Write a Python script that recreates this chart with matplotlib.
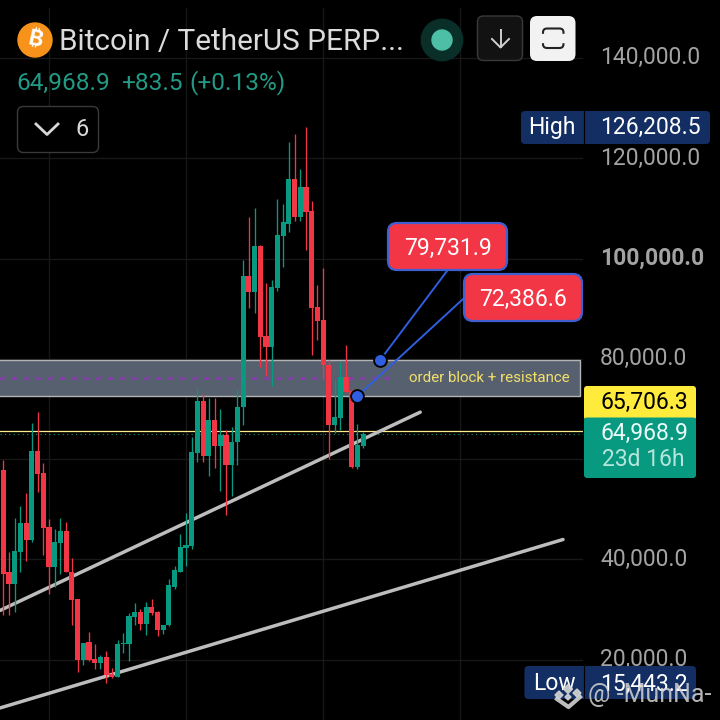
import matplotlib
matplotlib.use('Agg')
import matplotlib.pyplot as plt
from matplotlib.patches import FancyBboxPatch, Circle, Rectangle, Polygon
from matplotlib.transforms import ScaledTranslation

plt.rcParams['font.family'] = ['Roboto', 'DejaVu Sans']

# prices in thousands of USDT
opens = [57.74, 37.47, 35.01, 41.46, 47.31, 43.79, 61.53, 57.15, 46.38, 38.40, 43.25, 45.58, 37.60, 32.02, 19.86, 23.45,
         20.19, 19.26, 20.65, 17.20, 16.53, 23.05, 23.05, 28.50, 29.43, 27.23, 30.56, 29.43, 25.84, 26.84, 34.55, 37.60,
         42.26, 42.65, 61.13, 71.50, 60.60, 67.71, 62.72, 64.72, 58.93, 63.39, 70.37, 96.62, 93.43, 102.41, 84.46, 82.46,
         94.03, 104.40, 106.99, 115.77, 108.19, 114.17, 109.58, 90.44, 87.65, 78.87, 66.91, 68.11, 76.48, 73.69, 58.53, 62.72]
closes = [37.20, 35.01, 41.59, 47.31, 43.79, 61.53, 56.95, 46.24, 38.40, 43.39, 45.58, 37.60, 31.89, 19.86, 23.38, 19.99,
          19.26, 20.59, 17.00, 16.53, 23.18, 23.25, 28.63, 29.43, 27.23, 30.56, 29.23, 25.84, 27.03, 34.81, 37.80, 42.39,
          42.79, 61.33, 71.50, 60.60, 67.71, 62.72, 64.72, 58.93, 63.52, 70.50, 96.62, 93.43, 102.41, 84.26, 82.46, 94.23,
          104.60, 107.19, 115.77, 108.19, 114.17, 109.38, 90.24, 87.45, 78.68, 66.91, 68.31, 76.48, 73.49, 58.53, 62.92, 64.97]
highs = [59.74, 41.53, 48.30, 50.76, 53.16, 67.25, 69.31, 59.14, 48.11, 45.98, 48.30, 47.57, 40.20, 32.02, 23.38, 25.51,
         23.05, 21.05, 21.72, 18.39, 23.91, 25.37, 29.23, 31.22, 30.03, 31.49, 32.02, 29.69, 27.03, 36.14, 38.67, 44.98,
         49.17, 64.46, 74.03, 73.09, 72.23, 72.23, 70.03, 65.91, 66.44, 73.76, 99.81, 108.32, 110.12, 102.80, 95.03, 95.82,
         111.91, 110.78, 123.28, 124.74, 117.89, 126.21, 111.38, 94.63, 98.02, 79.87, 75.75, 79.47, 82.86, 73.89, 67.11, 65.38]
lows = [28.83, 28.83, 29.49, 37.47, 39.66, 43.45, 53.42, 40.99, 33.08, 34.55, 37.20, 37.47, 26.84, 17.66, 18.86, 19.72,
        18.19, 18.06, 15.44, 16.40, 16.53, 21.38, 19.72, 27.03, 25.90, 24.84, 28.96, 24.71, 25.04, 26.70, 34.21, 37.60,
        38.67, 42.12, 59.41, 59.40, 56.74, 58.27, 53.62, 48.96, 52.62, 58.93, 66.91, 90.17, 89.18, 78.28, 76.68, 74.55,
        93.50, 98.22, 105.20, 107.39, 107.39, 101.67, 80.67, 83.86, 76.02, 60.06, 65.12, 65.78, 73.36, 58.14, 57.94, 62.26]

price_ticks = [20, 40, 60, 80, 100, 120, 140]
price_labels = ['20,000.0', '40,000.0', '', '80,000.0', '100,000.0', '120,000.0', '140,000.0']
time_ticks = [8, 32, 56, 80]

band_top = 79.80
band_bottom = 72.55
last_price = 64.9689
line_price = 65.7063

upper_trend_x = [-0.58, 73.0]
upper_trend_y = [29.83, 69.37]
lower_trend_x = [-0.58, 98.0]
lower_trend_y = [10.39, 43.98]

anchor_x = [66, 62]
anchor_y = [band_top, band_bottom]

GREEN = '#089981'
RED = '#F23645'
BLUE = '#2f5fe0'
GRID = '#181818'
AXIS_TEXT = '#a3a3a3'
NAVY = '#132e62'
FS = 16.5

fig = plt.figure(figsize=(7.2, 7.2), dpi=100, facecolor='black')

ax = fig.add_axes([0, 0, 583 / 720, 712 / 720], facecolor='black')
ax.set_xlim(-0.578, 101.5)
ax.set_ylim(7.99, 149.96)
for s in ax.spines.values():
    s.set_visible(False)
ax.set_xticks(time_ticks)
ax.set_xticklabels([])
ax.set_yticks(price_ticks)
ax.set_yticklabels(price_labels)
ax.yaxis.tick_right()
ax.tick_params(length=0, pad=12.2, labelsize=FS, labelcolor=AXIS_TEXT)
ax.grid(True, color=GRID, lw=1)
ax.set_axisbelow(True)
nudge = ScaledTranslation(0, 2.5 / 100, fig.dpi_scale_trans)
for lab in ax.get_yticklabels():
    lab.set_transform(lab.get_transform() + nudge)
    if lab.get_text() == '100,000.0':
        lab.set_fontweight('bold')

ax.add_patch(Rectangle((-2, band_bottom), 103, band_top - band_bottom, facecolor='#56606e', edgecolor='#b4b4b4', lw=1, zorder=1.5))
ax.plot([-0.5, 68.6], [(band_top + band_bottom) / 2] * 2, color='#8e35b5', lw=2.2, ls=(0, (1.3, 2.63)), zorder=1.6)

ax.axhline(line_price, color='#ffeb8a', lw=0.9, zorder=1.7)
ax.axhline(last_price, color=GREEN, lw=0.8, ls=(0, (1, 3)), zorder=1.7)

ax.plot(upper_trend_x, upper_trend_y, color='#bdbdbd', lw=2.5, zorder=2, solid_capstyle='round')
ax.plot(lower_trend_x, lower_trend_y, color='#bdbdbd', lw=2.5, zorder=2, solid_capstyle='round')

for i in range(len(opens)):
    col = GREEN if closes[i] >= opens[i] else RED
    ax.vlines(i, lows[i], highs[i], color=col, lw=0.95, zorder=3)
    ax.bar(i, abs(closes[i] - opens[i]), bottom=min(opens[i], closes[i]), width=0.9, color=col, zorder=3.1)

ax.scatter(anchor_x, anchor_y, s=85, color=BLUE, edgecolors='black', linewidths=1.3, zorder=5)

ax.text(99.2, (band_top + band_bottom) / 2, 'order block + resistance', color='#f3e06b', fontsize=10.9, ha='right', va='center', zorder=6)

# everything below is the app's chrome, laid out in screen pixels
ui = fig.add_axes([0, 0, 1, 1], facecolor='none')
ui.set_xlim(0, 720)
ui.set_ylim(720, 0)
ui.axis('off')


def rounded(x0, y0, x1, y1, r, face, edge='none', lw=0, z=4):
    ui.add_patch(FancyBboxPatch((x0 + r, y0 + r), x1 - x0 - 2 * r, y1 - y0 - 2 * r,
                                boxstyle='round,pad=%s,rounding_size=%s' % (r, r),
                                facecolor=face, edgecolor=edge, lw=lw, zorder=z))


# leader lines and price callouts
for (bx, by), i in zip([(447, 271), (463, 299)], range(2)):
    ax.annotate('', xy=(anchor_x[i], anchor_y[i]), xycoords='data', xytext=(bx, by), textcoords=ui.transData,
                arrowprops=dict(arrowstyle='-', color=BLUE, lw=1.4, shrinkA=0, shrinkB=0), zorder=4.5, annotation_clip=False)
rounded(388, 223, 507, 270, 9, RED, '#3f5fd0', 1.6)
ui.text(448, 248, '79,731.9', color='white', fontsize=FS, ha='center', va='center', zorder=5)
rounded(464, 274, 582, 321, 9, RED, '#3f5fd0', 1.6)
ui.text(523, 299, '72,386.6', color='white', fontsize=FS, ha='center', va='center', zorder=5)

# header
ui.add_patch(Circle((35, 40), 17, color='#f7931a', zorder=4))
ui.text(35, 40, '\u20bf', color='white', fontsize=16, fontweight='bold', family=['Inter', 'Noto Sans', 'Open Sans', 'Lato', 'Liberation Sans', 'DejaVu Sans'],
        rotation=-12, ha='center', va='center', zorder=5)
ui.text(59, 42, 'Bitcoin / TetherUS PERP...', color='#dcdcdc', fontsize=21.4, ha='left', va='center', zorder=5)
ui.text(16, 83, '64,968.9', color='#229a85', fontsize=17.6, ha='left', va='center', zorder=5)
ui.text(121, 83, '+83.5', color='#229a85', fontsize=17.6, ha='left', va='center', zorder=5)
ui.text(189, 83, '(+0.13%)', color='#229a85', fontsize=17.6, ha='left', va='center', zorder=5)

rounded(17.5, 106.5, 98.5, 152.5, 6, 'black', '#3a3a3a', 1)
ui.plot([36, 47, 58], [124, 134.5, 124], color='#d8d8d8', lw=2, zorder=5)
ui.text(82.5, 129, '6', color='#d8d8d8', fontsize=17, ha='center', va='center', zorder=5)

ui.add_patch(Circle((442, 40), 20.7, color='#0a2e28', zorder=4))
ui.add_patch(Circle((442, 40), 10, color='#4dbfa6', zorder=5))

rounded(477.5, 16, 522.5, 60.5, 6, '#121212', '#3a3a3a', 1)
ui.plot([500.5, 500.5], [30, 47], color='#d0d0d0', lw=1.4, zorder=5)
ui.plot([492, 500.5, 509], [39, 47.5, 39], color='#d0d0d0', lw=1.4, zorder=5)

rounded(530, 16, 575.5, 61, 7, '#f2f2f2')
rounded(543, 28.5, 563.5, 48, 4, 'none', '#222222', 1.5, z=5)
ui.add_patch(Rectangle((540, 34), 26, 8, color='#f2f2f2', zorder=6))

# right scale labels
rounded(521, 111, 710, 144, 4, NAVY)
ui.plot([583.5, 583.5], [111, 144], color='black', lw=0.8, zorder=5)
ui.text(551.5, 127.5, 'High', color='white', fontsize=FS, ha='center', va='center', zorder=5)
ui.text(701, 127.5, '126,208.5', color='white', fontsize=FS, ha='right', va='center', zorder=5)

rounded(524.5, 666, 696, 699, 4, NAVY)
ui.plot([583.5, 583.5], [666, 699], color='black', lw=0.8, zorder=5)
ui.text(554, 684, 'Low', color='white', fontsize=FS, ha='center', va='center', zorder=5)
ui.text(688, 684, '15,443.2', color='white', fontsize=FS, ha='right', va='center', zorder=5)

rounded(584, 386, 696, 420, 3, '#ffeb3b')
ui.text(688, 402, '65,706.3', color='black', fontsize=FS, ha='right', va='center', zorder=5)
rounded(584, 417.5, 696, 478, 3, GREEN, z=4.2)
ui.text(688, 433, '64,968.9', color='#eafaf6', fontsize=FS, ha='right', va='center', zorder=5)
ui.text(602, 460, '23d 16h', color='#b5e6db', fontsize=FS, ha='left', va='center', zorder=5)

# watermark
WM = '#d4d4d4'
for cx, cy, r in [(568, 689, 4.5), (559, 695, 4), (577, 693, 4), (568, 697, 3)]:
    ui.add_patch(Polygon([(cx - r, cy), (cx, cy - r), (cx + r, cy), (cx, cy + r)], color=WM, alpha=0.9, zorder=7))
ui.plot([557, 568.5, 580], [699, 707, 697], color=WM, lw=3, alpha=0.9, zorder=7)
ui.text(588, 695, '@ -MunNa-', color=WM, fontsize=18, alpha=0.85, ha='left', va='center', zorder=7)

fig.savefig('out.png', dpi=100, facecolor='black')
